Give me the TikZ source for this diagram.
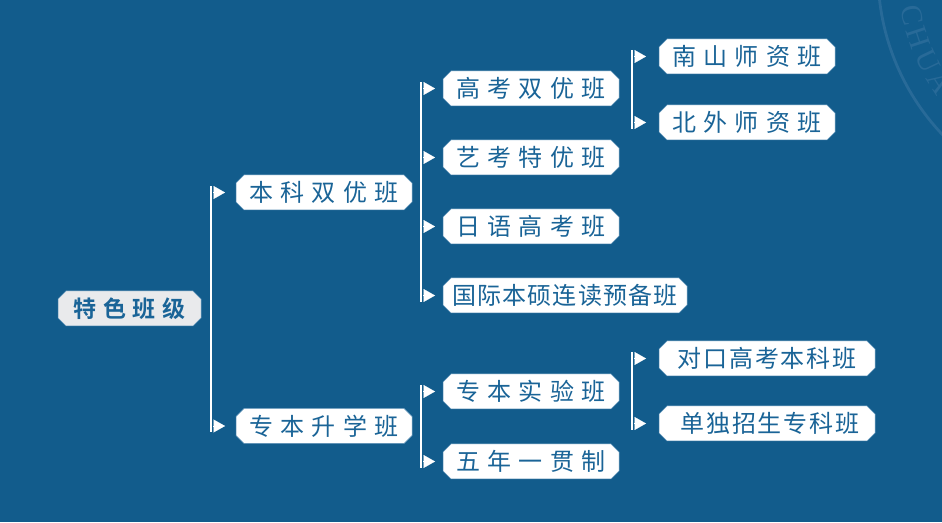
\documentclass[tikz,border=0pt]{standalone}
\usepackage{fontspec}
\usetikzlibrary{shapes.misc,arrows.meta,calc}
\newfontfamily\cjkwide[LetterSpace=30]{Noto Sans CJK SC}
\newfontfamily\cjktight[LetterSpace=5]{Noto Sans CJK SC}
\newfontfamily\cjkmid[LetterSpace=8]{Noto Sans CJK SC}
\newfontfamily\cjkbold[LetterSpace=30]{Noto Sans CJK SC Bold}
\newfontfamily\sealfont{Liberation Serif}
\definecolor{bgblue}{HTML}{125C8C}
\definecolor{inkblue}{HTML}{1A6497}
\definecolor{rootfill}{HTML}{E9EAEC}
\definecolor{edgeblue}{HTML}{5F93B8}
\definecolor{sealblue}{HTML}{286A98}
\tikzset{
  x=1pt,y=1pt,
  boxbase/.style={chamfered rectangle,chamfered rectangle xsep=4pt,chamfered rectangle ysep=4pt,
    inner sep=0pt,outer sep=0pt,anchor=west,draw=edgeblue,line width=0.5pt,minimum height=35pt,text=inkblue},
  classbox/.style={boxbase,fill=white,font=\cjkwide\fontsize{24}{24}\selectfont,minimum width=176pt},
  tightbox/.style={boxbase,fill=white,font=\cjktight\fontsize{24}{24}\selectfont},
  midbox/.style={boxbase,fill=white,font=\cjkmid\fontsize{24}{24}\selectfont,minimum width=216pt},
  rootbox/.style={boxbase,fill=rootfill,font=\cjkbold\fontsize{23}{23}\selectfont,minimum width=143pt},
  spine/.style={draw=white,line width=1.6pt},
  branch/.style={draw=white,line width=0.1pt,-{Triangle[length=11.5pt,width=13pt,fill=white,sep=0pt]},shorten <=2.4pt},
  sealletter/.style={font=\sealfont\fontsize{30}{30}\selectfont,text=sealblue,inner sep=0pt},
}
\begin{document}
\begin{tikzpicture}
\useasboundingbox (0,0) rectangle (942,522);
\fill[bgblue] (0,0) rectangle (942,522);
% seal watermark
\begin{scope}
\clip (0,0) rectangle (942,522);
\coordinate (seal) at (1113,549);
\draw[sealblue,line width=2.8pt] (seal) circle[radius=235];
\foreach \ang/\ch/\nm in {191.8/C/sc,198.3/H/sh,205.6/U/su,212.4/A/sa}{
  \node[sealletter,rotate=\ang-270] (\nm) at ($(seal)+(\ang:205)$) {\ch};
}
\end{scope}
% nodes
\node[rootbox]  (root) at (58,213.5) {特色班级};
\node[classbox] (ben)  at (236,329.5) {本科双优班};
\node[classbox] (zhuan) at (236,96) {专本升学班};
\node[classbox] (gao)  at (443,433.5) {高考双优班};
\node[classbox] (yi)   at (443,364.5) {艺考特优班};
\node[classbox] (ri)   at (443,295.5) {日语高考班};
\node[tightbox,minimum width=244pt] (guo) at (443,226.5) {国际本硕连读预备班};
\node[classbox] (shi)  at (443,130.5) {专本实验班};
\node[classbox] (wu)   at (443,60.5) {五年一贯制};
\node[classbox] (nan)  at (659,465.5) {南山师资班};
\node[classbox] (bei)  at (659,399.5) {北外师资班};
\node[midbox] (dui) at (659,163.5) {对口高考本科班};
\node[midbox] (dan) at (659,98.5) {\hspace*{6pt}单独招生专科班};
% spines
\foreach \first/\last/\sx in {ben/zhuan/211,gao/guo/421,shi/wu/421,nan/bei/632,dui/dan/632}{
  \draw[spine] ($(\sx,0 |- \first.west)+(0,6.5)$) -- ($(\sx,0 |- \last.west)+(0,-6.5)$);
}
% arrowheads: the distance from spine to tip is fixed, the gap to the box varies per level
\foreach \child/\sx/\gap in {ben/211/11,zhuan/211/11,gao/421/8,yi/421/8,ri/421/8,guo/421/8,shi/421/8,wu/421/8,nan/632/13,bei/632/13,dui/632/13,dan/632/13}{
  \draw[branch,shorten >=\gap pt] (\sx,0 |- \child.west) -- (\child.west);
}
\end{tikzpicture}
\end{document}
